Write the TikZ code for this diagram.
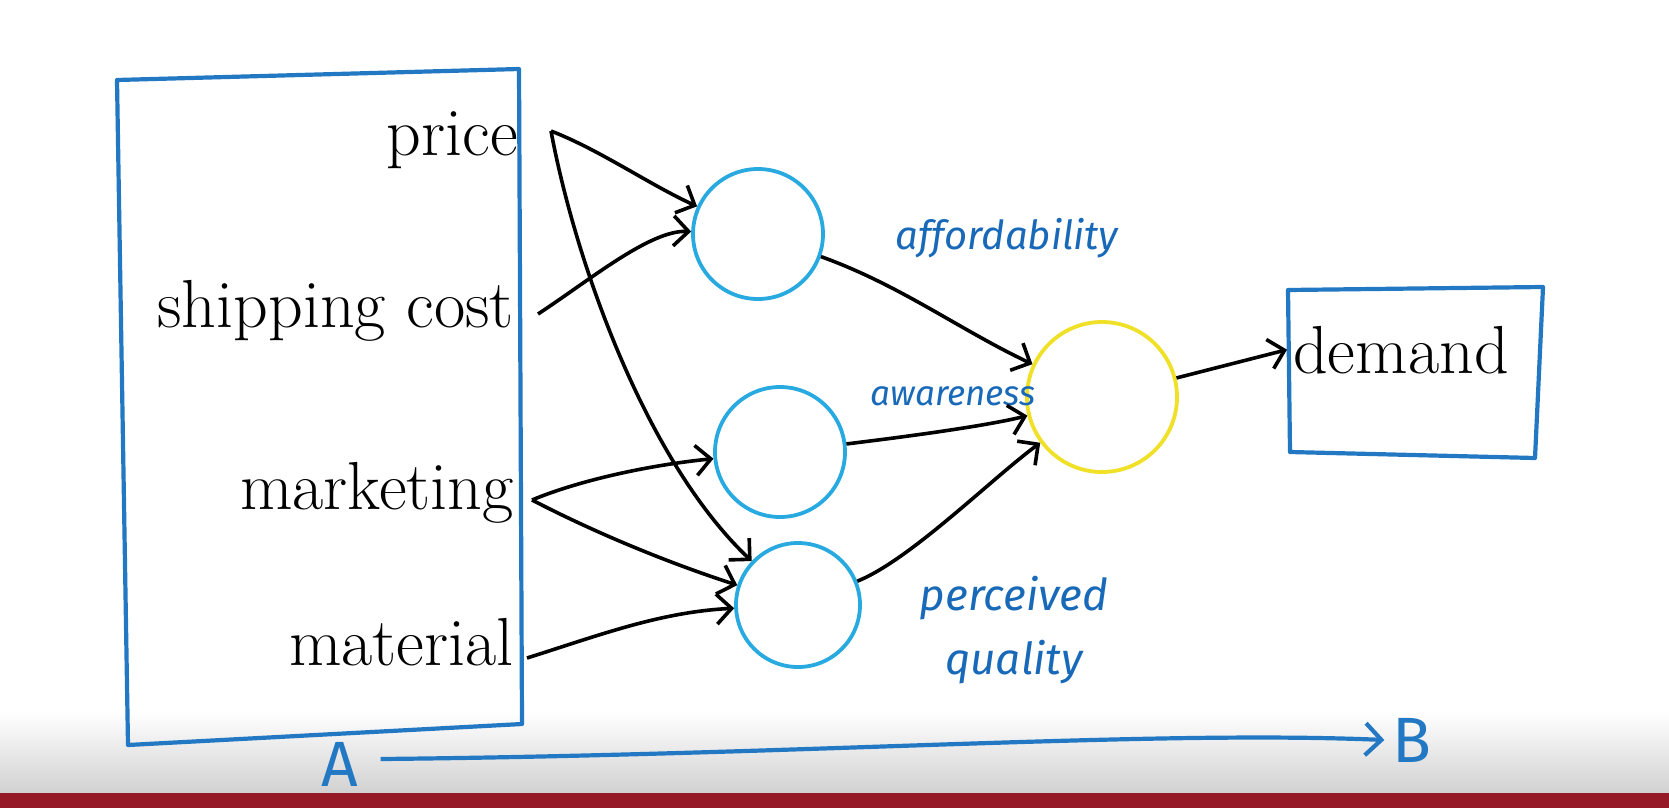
\documentclass[tikz,border=0pt]{standalone}
\usepackage{fontspec}
\usetikzlibrary{arrows.meta}
\newfontfamily\hand{Fira Sans}
\definecolor{boxblue}{RGB}{35,120,195}
\definecolor{cirblue}{RGB}{40,170,225}
\definecolor{penyellow}{RGB}{240,225,40}
\definecolor{labblue}{RGB}{25,105,185}
\definecolor{barred}{RGB}{150,25,40}
\tikzset{
  feat/.style={anchor=base east, inner sep=0pt, font=\fontsize{68}{68}\selectfont},
  hid/.style={circle, draw=cirblue, line width=3.8pt, minimum size=130pt, inner sep=0pt},
  outn/.style={circle, draw=penyellow, line width=3.8pt, minimum size=150pt, inner sep=0pt},
  arr/.style={line width=3.6pt, -{Straight Barb[length=15pt,width=30pt,line width=3.6pt]}},
  lab/.style={text=labblue, inner sep=0pt, font=\hand\itshape\fontsize{40}{62}\selectfont, align=center},
  pen/.style={draw=boxblue, line width=4.2pt}
}
\begin{document}
\begin{tikzpicture}[x=1pt,y=-1pt]
\useasboundingbox (0,0) rectangle (1669,808);
\fill[white] (0,0) rectangle (1669,808);
\shade[top color=white, bottom color=black!18] (0,712) rectangle (1669,793);
\fill[barred] (0,793) rectangle (1669,808);

% input box
\draw[pen, line join=round] (117,80) -- (519,69) -- (522,724) -- (128,745) -- cycle;

% features
\node[feat] (price) at (518,155) {price};
\node[feat] (ship) at (514,327) {shipping cost};
\node[feat] (mkt) at (514,509) {marketing};
\node[feat] (mat) at (514,665) {material};

% hidden units
\node[hid] (c1) at (758,234) {};
\node[hid] (c2) at (780,452) {};
\node[hid, minimum size=124pt] (c3) at (798,605) {};
\node[outn] (y) at (1102,397) {};

% output box
\draw[pen, line join=round] (1288,290) -- (1543,287) -- (1535,458) -- (1290,452) -- cycle;
\node[anchor=base west, inner sep=0pt, font=\fontsize{68}{68}\selectfont] (dem) at (1293,373) {demand};

% labels
\node[lab] (laff) at (1007,238) {affordability};
\node[lab, font=\hand\itshape\fontsize{35}{40}\selectfont] (lawa) at (953,396) {awareness};
\node[lab, font=\hand\itshape\fontsize{44}{64}\selectfont] (lqua) at (1014,630) {perceived\\quality};

% start points
\coordinate (pr) at (551,131);
\coordinate (sh) at (538,314);
\coordinate (mk) at (532,500);
\coordinate (ma) at (527,658);

% arrows from inputs
\draw[arr] (pr) .. controls (600,150) and (650,185) .. (c1);
\draw[arr] (pr) .. controls (575,260) and (645,460) .. (c3);
\draw[arr] (sh) .. controls (590,280) and (650,230) .. (c1);
\draw[arr] (mk) .. controls (580,480) and (650,465) .. (c2);
\draw[arr] (mk) .. controls (590,530) and (660,560) .. (c3);
\draw[arr] (ma) .. controls (600,635) and (660,612) .. (c3);

% arrows to output
\draw[arr] (c1) .. controls (900,285) and (960,330) .. (y);
\draw[arr] (c2) .. controls (920,435) and (990,425) .. (y);
\draw[arr] (c3) .. controls (910,560) and (990,480) .. (y);
\draw[arr] (y) -- ([xshift=-6pt]dem.west);

% A -> B
\node[text=boxblue, inner sep=0pt, font=\hand\fontsize{64}{64}\selectfont] (A) at (340,764) {A};
\node[text=boxblue, inner sep=0pt, font=\hand\fontsize{64}{64}\selectfont] (B) at (1412,740) {B};
\draw[draw=boxblue, line width=4.2pt, -{Straight Barb[length=16pt,width=32pt,line width=4.2pt]}]
  (A.east) ++(22pt,5pt) .. controls (800,755) and (1150,730) .. ([xshift=-8pt]B.west);
\end{tikzpicture}
\end{document}
